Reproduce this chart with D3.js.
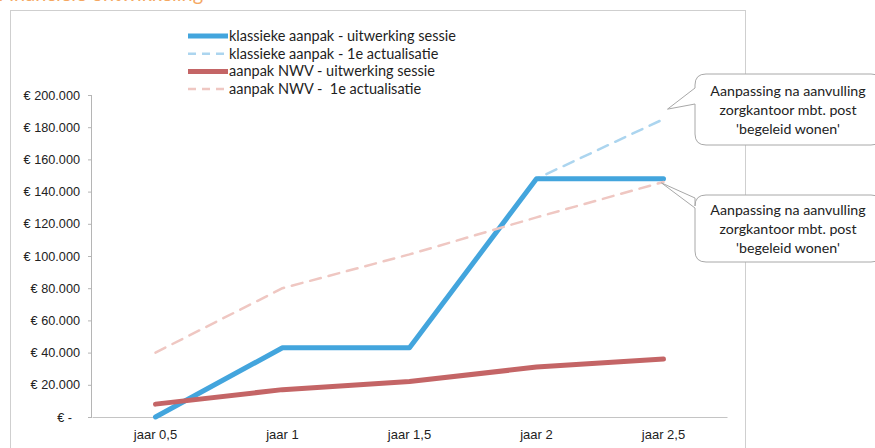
<!DOCTYPE html>
<html>
<head>
<meta charset="utf-8">
<script src="https://cdn.jsdelivr.net/npm/d3@7"></script>
<style>
  html, body { margin: 0; padding: 0; background: #fff; }
  svg { display: block; font-family: Lato, "Open Sans", sans-serif; }
</style>
</head>
<body>
<svg id="chart" width="875" height="448"></svg>
<script>
// Categories (years) and the four cost series
const categories = ["jaar 0,5", "jaar 1", "jaar 1,5", "jaar 2", "jaar 2,5"];
const klassiekSessie = [0, 43000, 43000, 148000, 148000];
const klassiekActualisatie = [0, 43000, 43000, 148000, 185000];
const nwvSessie = [8000, 17000, 22000, 31000, 36000];
const nwvActualisatie = [40000, 80000, 101000, 124000, 146000];
const yTicks = [0, 20000, 40000, 60000, 80000, 100000, 120000, 140000, 160000, 180000, 200000];
const seriesNames = [
  "klassieke aanpak - uitwerking sessie",
  "klassieke aanpak - 1e actualisatie",
  "aanpak NWV - uitwerking sessie",
  "aanpak NWV -  1e actualisatie"
];
const calloutLines = ["Aanpassing na aanvulling", "zorgkantoor mbt. post", "'begeleid wonen'"];

const svg = d3.select("#chart");

// Title (runs off the top edge of the page)
svg.append("text")
  .attr("x", -2).attr("y", 1)
  .attr("fill", "#f5a862")
  .attr("font-size", 20)
  .text("Financiële ontwikkeling");

// Chart frame
svg.append("rect")
  .attr("x", 10.5).attr("y", 10.5)
  .attr("width", 735).attr("height", 460)
  .attr("fill", "none")
  .attr("stroke", "#cfcfcf");

const plot = { left: 92, right: 727, top: 95, bottom: 417 };

const x = d3.scaleBand().domain(categories).range([plot.left, plot.right]);
const xc = c => x(c) + x.bandwidth() / 2;
const y = d3.scaleLinear().domain([0, 200000]).range([plot.bottom, plot.top]);

// Y axis
const fmt = v => v === 0 ? "€ -" : "€ " + d3.format(",")(v).replace(/,/g, ".");
const yAxis = d3.axisLeft(y).tickValues(yTicks).tickSize(4).tickPadding(8).tickFormat(fmt);
const gy = svg.append("g").attr("transform", `translate(${plot.left},0)`).call(yAxis);
gy.select(".domain").attr("stroke", "#b5b5b5").attr("d", `M-0.5,${plot.top}V${plot.bottom}`);
gy.selectAll(".tick line").attr("stroke", "#b5b5b5");
gy.selectAll(".tick text")
  .attr("fill", "#222").attr("font-size", 12.7)
  .attr("dx", d => d === 0 ? -8 : 0);

// X axis
const xAxis = d3.axisBottom(x).tickSize(0).tickPadding(13);
const gx = svg.append("g").attr("transform", `translate(0,${plot.bottom})`).call(xAxis);
gx.select(".domain").attr("stroke", "#c4c4c4");
gx.selectAll(".tick text").attr("fill", "#222").attr("font-size", 13);

// Lines
const line = d3.line().x((d, i) => xc(categories[i])).y(d => y(d));
const series = [
  { name: seriesNames[1], values: klassiekActualisatie, color: "#acd5ef", width: 2.5, dash: "11,8" },
  { name: seriesNames[0], values: klassiekSessie, color: "#43a5dd", width: 5, dash: null },
  { name: seriesNames[2], values: nwvSessie, color: "#c46566", width: 5, dash: null },
  { name: seriesNames[3], values: nwvActualisatie, color: "#efc7c2", width: 2.5, dash: "11,8" }
];
svg.append("g").selectAll("path").data(series).join("path")
  .attr("d", d => line(d.values))
  .attr("fill", "none")
  .attr("stroke", d => d.color)
  .attr("stroke-width", d => d.width)
  .attr("stroke-linecap", "round")
  .attr("stroke-linejoin", "round")
  .attr("stroke-dasharray", d => d.dash);

// Legend, rows in the order of seriesNames
const legendRows = seriesNames.map(n => series.find(s => s.name === n));
const lg = svg.append("g").attr("transform", "translate(188,36)");
const row = lg.selectAll("g").data(legendRows).join("g")
  .attr("transform", (d, i) => `translate(0,${i * 17.7})`);
row.append("line")
  .attr("x1", 0).attr("x2", 40).attr("y1", 0).attr("y2", 0)
  .attr("stroke", d => d.color)
  .attr("stroke-width", d => d.width)
  .attr("stroke-dasharray", d => d.dash ? "8,6" : null);
row.append("text")
  .attr("x", 41).attr("y", 5)
  .attr("font-size", 14.5).attr("fill", "#1e1e1e")
  .style("white-space", "pre")
  .text(d => d.name);

// Callouts with pointer
function callout(tipX, tipY, top, bottom, baseY1, baseY2) {
  const left = 695, right = 882, r = 11;
  const p = d3.path();
  p.moveTo(left + r, top);
  p.lineTo(right - r, top);
  p.quadraticCurveTo(right, top, right, top + r);
  p.lineTo(right, bottom - r);
  p.quadraticCurveTo(right, bottom, right - r, bottom);
  p.lineTo(left + r, bottom);
  p.quadraticCurveTo(left, bottom, left, bottom - r);
  p.lineTo(left, baseY2);
  p.lineTo(tipX, tipY);
  p.lineTo(left, baseY1);
  p.lineTo(left, top + r);
  p.quadraticCurveTo(left, top, left + r, top);
  p.closePath();
  svg.append("path").attr("d", p.toString())
    .attr("fill", "#fff").attr("stroke", "#a8a8a8").attr("stroke-width", 1);
  const t = svg.append("text").attr("text-anchor", "middle")
    .attr("font-size", 14.2).attr("fill", "#222");
  const cy = (top + bottom) / 2;
  calloutLines.forEach((s, i) => {
    t.append("tspan").attr("x", 788).attr("y", cy + (i - 1) * 19 + 5).text(s);
  });
}
const lastCat = categories[categories.length - 1];
callout(xc(lastCat) + 4, y(klassiekActualisatie[4]) - 10, 74, 145, 88, 104);
callout(xc(lastCat) - 2, y(nwvActualisatie[4]) + 1, 195, 262, 198, 208);
</script>
</body>
</html>
